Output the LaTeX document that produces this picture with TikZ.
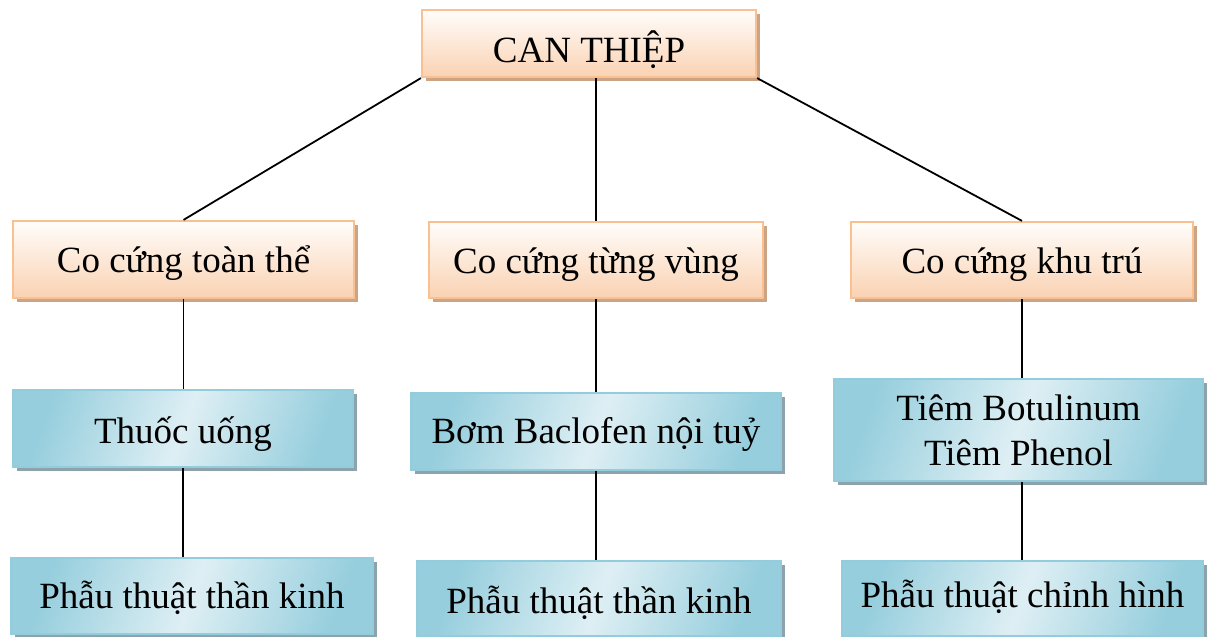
\documentclass[tikz,border=0pt]{standalone}
\usepackage{fontspec}
\setmainfont{Liberation Serif}
\usetikzlibrary{shadows}
\definecolor{orbord}{RGB}{250,192,143}
\definecolor{ortop}{RGB}{255,253,251}
\definecolor{orbot}{RGB}{250,210,178}
\definecolor{orshad}{RGB}{202,164,132}
\definecolor{blbord}{RGB}{147,205,221}
\definecolor{bledge}{RGB}{150,206,221}
\definecolor{blmid}{RGB}{222,239,244}
\definecolor{blshad}{RGB}{140,163,171}
\tikzset{
  box/.style={minimum width=#1, inner sep=0pt, align=center,
    font=\fontsize{37}{44.5}\selectfont, line width=2.2pt},
  orbox/.style={box=#1, draw=orbord, top color=ortop, bottom color=orbot,
    drop shadow={shadow xshift=4pt, shadow yshift=-4pt, fill=orshad, opacity=1}},
  blbox/.style={box=#1, draw=blbord, left color=bledge, right color=bledge, middle color=blmid,
    shading angle=70,
    drop shadow={shadow xshift=4pt, shadow yshift=-4pt, fill=blshad, opacity=1}},
  bl/.style={text height=#1, text depth=0pt},
  conn/.style={line width=1.8pt, black}
}
\begin{document}
\begin{tikzpicture}[x=1pt,y=-1pt]
\useasboundingbox (0,0) rectangle (1210,637);
\node[orbox=334pt, minimum height=67pt, bl=37pt] (top) at (589,43.5) {CAN THIỆP};
\node[orbox=341pt, minimum height=77pt, bl=26pt] (o1) at (183.5,259.5) {Co cứng toàn thể};
\node[orbox=334pt, minimum height=76pt, bl=26pt] (o2) at (596,260) {Co cứng từng vùng};
\node[orbox=342pt, minimum height=76pt, bl=26pt] (o3) at (1022,260) {Co cứng khu trú};
\node[blbox=340pt, minimum height=77pt, bl=29pt] (b1) at (183,428.5) {Thuốc uống};
\node[blbox=370pt, minimum height=77pt, bl=23pt] (b2) at (596,431.5) {Bơm Baclofen nội tuỷ};
\node[blbox=369pt, minimum height=102pt, bl=70pt] (b3) at (1018.5,430) {Tiêm Botulinum\\Tiêm Phenol};
\node[blbox=362pt, minimum height=76pt, bl=24pt] (b4) at (192,596) {Phẫu thuật thần kinh};
\node[blbox=364pt, minimum height=75pt, bl=29pt] (b5) at (599,598.5) {Phẫu thuật thần kinh};
\node[blbox=361pt, minimum height=75pt, bl=17pt] (b6) at (1022.5,598.5) {Phẫu thuật chỉnh hình};
\draw[conn] (top.south west) -- (o1.north);
\draw[conn] (top.south -| o2.north) -- (o2.north);
\draw[conn] (top.south east) -- (o3.north);
\draw[conn] (o1.south) -- (o1.south |- b1.north);
\draw[conn] (o2.south) -- (o2.south |- b2.north);
\draw[conn] (o3.south) -- (o3.south |- b3.north);
\draw[conn] (b1.south) -- (b1.south |- b4.north);
\draw[conn] (b2.south) -- (b2.south |- b5.north);
\draw[conn] (b3.south -| o3.south) -- (o3.south |- b6.north);
\end{tikzpicture}
\end{document}
